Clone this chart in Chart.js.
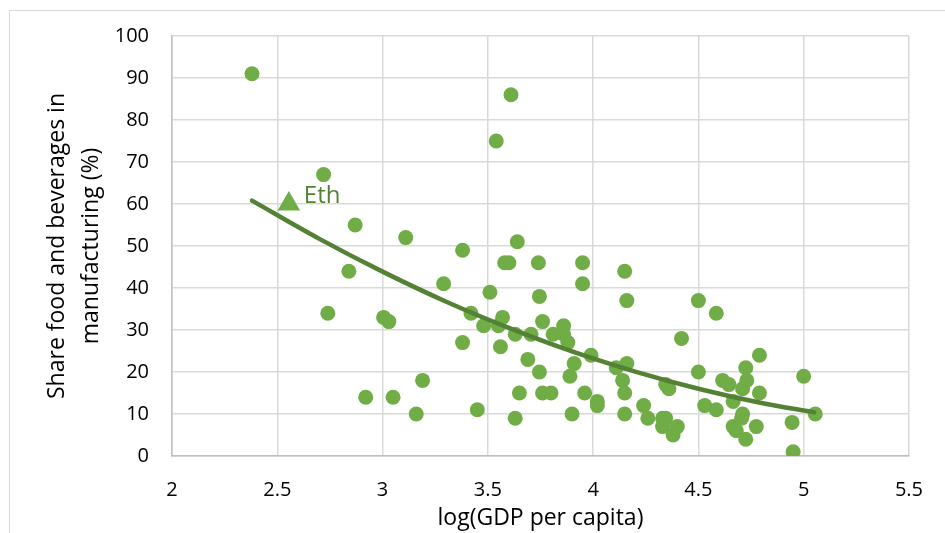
<!DOCTYPE html>
<html>
<head>
<meta charset="utf-8">
<title>Share food and beverages in manufacturing</title>
<script src="https://cdn.jsdelivr.net/npm/chart.js@4.4.1/dist/chart.umd.min.js"></script>
<style>
  html, body { margin: 0; padding: 0; background: #fff; overflow: hidden; }
  #frame { position: absolute; left: 9px; top: 10px; width: 1000px; height: 600px; border: 1px solid #d9d9d9; }
  #wrap { position: absolute; left: 0; top: 0; width: 945px; height: 533px; }
</style>
</head>
<body>
<div id="frame"></div>
<div id="wrap"><canvas id="chart"></canvas></div>
<script>
// country observations: log(GDP per capita) vs share of food & beverages (%)
const countryX = [
  2.38, 2.72, 2.74, 2.84, 2.87, 2.92, 3.005, 3.03, 3.05, 3.11, 3.16, 3.19, 3.29,
  3.38, 3.38, 3.42, 3.45, 3.48, 3.51, 3.54, 3.55, 3.56, 3.57, 3.58, 3.60, 3.61,
  3.63, 3.63, 3.64, 3.65, 3.69, 3.705, 3.74, 3.745, 3.745, 3.76, 3.76, 3.80, 3.81,
  3.86, 3.86, 3.88, 3.89, 3.90, 3.91, 3.95, 3.95, 3.96, 3.99, 4.02, 4.02, 4.11,
  4.14, 4.15, 4.15, 4.15, 4.16, 4.16,
  4.24, 4.26, 4.33, 4.345, 4.33, 4.345, 4.36, 4.38, 4.40, 4.42, 4.50, 4.50, 4.53,
  4.585, 4.585, 4.615, 4.645, 4.665, 4.665, 4.68, 4.705, 4.71, 4.71, 4.725, 4.725,
  4.73, 4.775, 4.79, 4.79, 4.945, 4.95, 5.00, 5.055
];
const countryY = [
  91, 67, 34, 44, 55, 14, 33, 32, 14, 52, 10, 18, 41,
  49, 27, 34, 11, 31, 39, 75, 31, 26, 33, 46, 46, 86,
  29, 9, 51, 15, 23, 29, 46, 38, 20, 32, 15, 15, 29,
  31, 29, 27, 19, 10, 22, 46, 41, 15, 24, 13, 12, 21,
  18, 44, 15, 10, 37, 22,
  12, 9, 9, 9, 7, 17, 16, 5, 7, 28, 37, 20, 12,
  34, 11, 18, 17, 13, 7, 6, 9, 10, 16, 21, 4,
  18, 7, 24, 15, 8, 1, 19, 10
];

// highlighted country
const ethX = [2.555];
const ethY = [60];
const ethLabel = 'Eth';

// trend line
const trendX = [2.38, 2.7, 3.0, 3.3, 3.6, 3.9, 4.2, 4.5, 4.8, 5.05];
const trendY = [60.8, 51.7, 43.9, 36.8, 30.5, 24.9, 20.1, 16.0, 12.6, 10.4];

const xTicks = [2, 2.5, 3, 3.5, 4, 4.5, 5, 5.5];
const yTicks = [0, 10, 20, 30, 40, 50, 60, 70, 80, 90, 100];

const FONT = '"Open Sans", "Liberation Sans", sans-serif';

function toPoints(xs, ys) {
  return xs.map((x, i) => ({ x: x, y: ys[i] }));
}

// draws the "Eth" text next to its marker
const ethLabelPlugin = {
  id: 'ethLabel',
  afterDatasetsDraw(chart) {
    const pt = chart.getDatasetMeta(2).data[0];
    if (!pt) return;
    const ctx = chart.ctx;
    ctx.save();
    ctx.font = '24px ' + FONT;
    ctx.fillStyle = '#548235';
    ctx.textBaseline = 'middle';
    ctx.textAlign = 'left';
    ctx.fillText(ethLabel, pt.x + 15, pt.y - 8);
    ctx.restore();
  }
};

new Chart(document.getElementById('chart'), {
  type: 'scatter',
  data: {
    datasets: [
      {
        label: 'Countries',
        data: toPoints(countryX, countryY),
        backgroundColor: '#70AD47',
        borderWidth: 0,
        pointRadius: 7.5,
        pointHoverRadius: 7.5,
        order: 3
      },
      {
        label: 'Trend',
        data: toPoints(trendX, trendY),
        showLine: true,
        borderColor: '#548235',
        borderWidth: 4.5,
        borderCapStyle: 'round',
        pointRadius: 0,
        tension: 0.4,
        cubicInterpolationMode: 'monotone',
        order: 2
      },
      {
        label: ethLabel,
        data: toPoints(ethX, ethY),
        pointStyle: 'triangle',
        backgroundColor: '#70AD47',
        borderWidth: 0,
        pointRadius: 13,
        order: 1
      }
    ]
  },
  options: {
    responsive: true,
    maintainAspectRatio: false,
    animation: false,
    layout: { padding: { top: 36, right: 35, left: 0, bottom: 0 } },
    plugins: {
      legend: { display: false },
      tooltip: { enabled: false }
    },
    scales: {
      x: {
        type: 'linear',
        min: 2,
        max: 5.5,
        afterBuildTicks: s => { s.ticks = xTicks.map(v => ({ value: v })); },
        afterFit: s => { s.height = 77; },
        grid: { color: '#d9d9d9', lineWidth: 1.5, drawTicks: false },
        border: { color: '#bfbfbf', width: 1.5 },
        ticks: {
          color: '#000',
          font: { family: FONT, size: 20 },
          padding: 22,
          callback: v => String(v)
        },
        title: {
          display: true,
          text: 'log(GDP per capita)',
          color: '#000',
          font: { family: FONT, size: 23 },
          padding: { top: 0, bottom: 1 }
        }
      },
      y: {
        type: 'linear',
        min: 0,
        max: 100,
        afterBuildTicks: s => { s.ticks = yTicks.map(v => ({ value: v })); },
        afterFit: s => { s.width = 172; },
        grid: { color: '#d9d9d9', lineWidth: 1.5, drawTicks: false },
        border: { color: '#bfbfbf', width: 1.5 },
        ticks: {
          color: '#000',
          font: { family: FONT, size: 20 },
          padding: 23,
          callback: v => String(v)
        },
        title: {
          display: true,
          text: ['Share food and beverages in', 'manufacturing (%)'],
          color: '#000',
          font: { family: FONT, size: 23, lineHeight: 1.5 },
          padding: { top: 40, bottom: 0 }
        }
      }
    }
  },
  plugins: [ethLabelPlugin]
});
</script>
</body>
</html>
